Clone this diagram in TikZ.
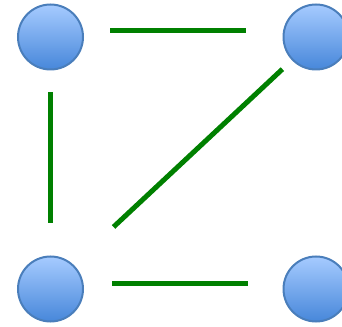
\documentclass[tikz,border=0pt]{standalone}
\usepackage{tikz}
\usepackage{xcolor}
\usetikzlibrary{calc}

\definecolor{ballTop}{HTML}{A6CBFF}
\definecolor{ballMid}{HTML}{8EB8F4}
\definecolor{ballBot}{HTML}{4787DA}
\definecolor{ballRim}{HTML}{4A7EBB}
\definecolor{edgeGreen}{HTML}{008000}

\begin{document}
\begin{tikzpicture}[x=1pt, y=1pt,
  ball/.style={circle, minimum size=65pt, inner sep=0pt, draw=ballRim, line width=2pt,
    top color=ballTop, middle color=ballMid, bottom color=ballBot},
  link/.style={edgeGreen, line width=5pt}]
\useasboundingbox (0,0) rectangle (342,326);
\clip (0,0) rectangle (342,326);

% vertices
\node[ball] (tl) at (50.5,289) {};
\node[ball] (tr) at (316,289) {};
\node[ball] (bl) at (50.5,37) {};
\node[ball] (br) at (316,37) {};

% edges
\draw[link, shorten <=27pt, shorten >=37pt] (tl.12) -- (tr.168);
\draw[link, shorten <=22pt, shorten >=32pt] (tl) -- (bl);
\draw[link, shorten <=55pt, shorten >=13pt] (bl.47) -- (tr.224);
\draw[link, shorten <=29pt, shorten >=35pt] (bl.10) -- (br.170);
\end{tikzpicture}
\end{document}
